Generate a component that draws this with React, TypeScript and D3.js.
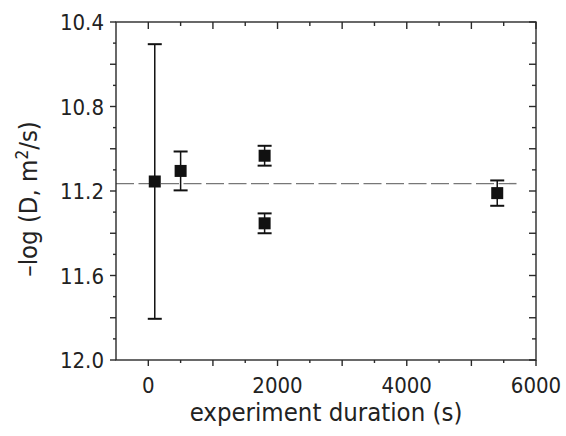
import React from "react";
import * as d3 from "d3";

const durations = [100, 500, 1800, 1800, 5400];
const logD = [11.155, 11.105, 11.033, 11.353, 11.21];
const errs = [0.65, 0.092, 0.047, 0.047, 0.06];
const meanLine = 11.165;
const meanLineEnd = 5750;
const xTickLabels = [0, 2000, 4000, 6000];
const yTickLabels = [10.4, 10.8, 11.2, 11.6, 12.0];

const W = 566, H = 436;
const L = 116, R = 536, T = 22, B = 360;
const FONT = "'DejaVu Sans Condensed', 'DejaVu Sans', Verdana, sans-serif";
const AX = "#2a2a2a";

export default function App() {
  const x = d3.scaleLinear().domain([-500, 6000]).range([L, R]);
  const y = d3.scaleLinear().domain([10.4, 12.0]).range([T, B]);
  const xMaj = d3.range(0, 6001, 1000);
  const xMin = d3.range(-500, 6001, 1000);
  const yMaj = d3.range(0, 9).map(i => 10.4 + i * 0.2);
  const yMin = d3.range(0, 8).map(i => 10.5 + i * 0.2);
  const lines: JSX.Element[] = [];
  xMaj.forEach((v, i) => {
    const px = x(v);
    lines.push(<line key={"xb" + i} x1={px} x2={px} y1={B} y2={B + 6} />);
    lines.push(<line key={"xt" + i} x1={px} x2={px} y1={T} y2={T + 7} />);
  });
  xMin.forEach((v, i) => {
    const px = x(v);
    if (v <= -500) return;
    lines.push(<line key={"xbm" + i} x1={px} x2={px} y1={B} y2={B + 3} />);
    lines.push(<line key={"xtm" + i} x1={px} x2={px} y1={T} y2={T + 4} />);
  });
  yMaj.forEach((v, i) => {
    const py = y(v);
    lines.push(<line key={"yl" + i} x1={L - 6} x2={L} y1={py} y2={py} />);
    lines.push(<line key={"yr" + i} x1={R - 7} x2={R} y1={py} y2={py} />);
  });
  yMin.forEach((v, i) => {
    const py = y(v);
    lines.push(<line key={"ylm" + i} x1={L - 3} x2={L} y1={py} y2={py} />);
    lines.push(<line key={"yrm" + i} x1={R - 4} x2={R} y1={py} y2={py} />);
  });
  return (
    <svg width={W} height={H} style={{ position: "absolute", left: 0, top: 0, background: "#fff" }}>
      <line x1={x(-500)} x2={x(meanLineEnd)} y1={y(meanLine)} y2={y(meanLine)}
        stroke="#777" strokeWidth={1.4} strokeDasharray="18,4.5" />
      <g stroke={AX} strokeWidth={1.4}>
        {lines}
        <rect x={L} y={T} width={R - L} height={B - T} fill="none" />
      </g>
      <g fill="#111" stroke="#111">
        {durations.map((d, i) => {
          const cx = x(d);
          const y0 = y(logD[i] - errs[i]);
          const y1 = y(logD[i] + errs[i]);
          return (
            <g key={i}>
              <line x1={cx} x2={cx} y1={y0} y2={y1} strokeWidth={1.5} />
              <line x1={cx - 7} x2={cx + 7} y1={y0} y2={y0} strokeWidth={2} />
              <line x1={cx - 7} x2={cx + 7} y1={y1} y2={y1} strokeWidth={2} />
              <rect x={cx - 6} y={y(logD[i]) - 6} width={12} height={12} stroke="none" />
            </g>
          );
        })}
      </g>
      <g fontFamily={FONT} fontSize={22} fill="#222">
        {xTickLabels.map((v, i) => (
          <text key={"xl" + i} x={x(v)} y={393} textAnchor="middle">{v}</text>
        ))}
        {yTickLabels.map((v, i) => (
          <text key={"yl" + i} x={104} y={y(v) + 8} textAnchor="end">{v.toFixed(1)}</text>
        ))}
        <text x={(L + R) / 2} y={421} textAnchor="middle" fontSize={25.5}>experiment duration (s)</text>
        <text transform={`translate(37,${(T + B) / 2 + 8}) rotate(-90)`} textAnchor="middle" fontSize={25.5}>
          –log (D, m<tspan dy={-9} fontSize={17}>2</tspan><tspan dy={9}>/s)</tspan>
        </text>
      </g>
    </svg>
  );
}
